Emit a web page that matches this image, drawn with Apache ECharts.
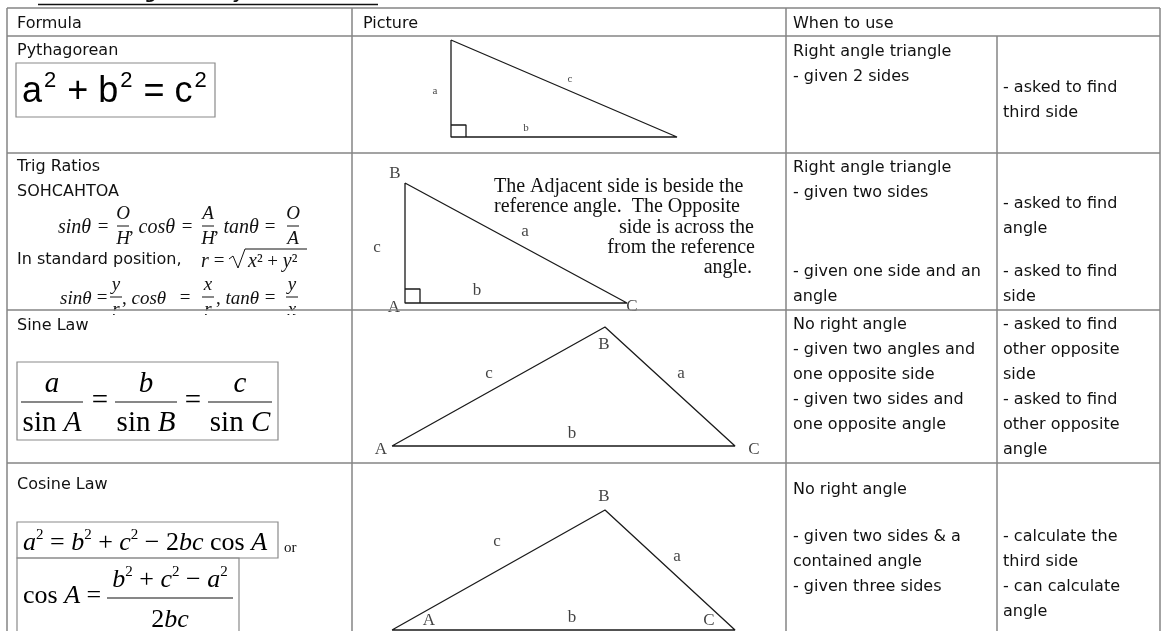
<!DOCTYPE html>
<html>
<head>
<meta charset="utf-8">
<title>Trigonometry Reference Sheet</title>
<script src="https://cdn.jsdelivr.net/npm/echarts@6.0.0/dist/echarts.min.js"></script>
<style>
html, body { margin: 0; padding: 0; background: #fff; }
#container { width: 1165px; height: 631px; }
</style>
</head>
<body>
<div id="container"></div>
<script>
var headers = ['Formula', 'Picture', 'When to use'];
var rowTitles = ['Pythagorean', 'Trig Ratios', 'Sine Law', 'Cosine Law'];
var givenText = [
	[['Right angle triangle', '- given 2 sides']],
	[['Right angle triangle', '- given two sides'], ['- given one side and an', 'angle']],
	[['No right angle', '- given two angles and', 'one opposite side', '- given two sides and', 'one opposite angle']],
	[['No right angle'], ['- given two sides & a', 'contained angle', '- given three sides']]
];
var askedText = [
	[['- asked to find', 'third side']],
	[['- asked to find', 'angle'], ['- asked to find', 'side']],
	[['- asked to find', 'other opposite', 'side', '- asked to find', 'other opposite', 'angle']],
	[['- calculate the', 'third side', '- can calculate', 'angle']]
];
var trigNote = ['The Adjacent side is beside the', 'reference angle.  The Opposite', 'side is across the', 'from the reference', 'angle.'];

// triangle corners (page units)
var pythagTriangle = [[451, 40], [451, 137], [677, 137], [451, 40]];
var pythagSquare = [[451, 125], [466, 125], [466, 137]];
var trigTriangle = [[405, 183], [405, 303], [627, 303], [405, 183]];
var trigSquare = [[405, 289], [420, 289], [420, 303]];
var sineTriangle = [[392, 446], [605, 327], [735, 446], [392, 446]];
var cosineTriangle = [[392, 630], [605, 510], [735, 630], [392, 630]];

// side / vertex names
var pythagLabels = [['a', 435, 91], ['c', 570, 79], ['b', 526, 128]];
var trigLabels = [['B', 395, 174], ['c', 377, 248], ['a', 525, 232], ['b', 477, 291], ['A', 394, 308], ['C', 632, 307]];
var sineLabels = [['A', 381, 450], ['B', 604, 345], ['C', 754, 450], ['c', 489, 374], ['a', 681, 374], ['b', 572, 434]];
var cosineLabels = [['B', 604, 497], ['c', 497, 542], ['a', 677, 557], ['A', 429, 621], ['b', 572, 618], ['C', 709, 621]];

// layout
var colX = [7, 352, 786, 997, 1160];
var rowY = [8, 36, 153, 310, 463];
var titleY = [24, 51, 167, 326, 485];
var givenY = [[52], [168, 272], [325], [490, 537]];
var askedY = [[88], [204, 272], [325], [537]];
var LH = 25;

var BODY = '16px "DejaVu Sans"';
var INK = '#111';
var RULE = '#858585';

function T(x, y, text, font, extra) {
	return {
		type: 'text', x: x, y: y, silent: true, z: 10,
		style: Object.assign({ text: text, font: font, fill: INK, verticalAlign: 'middle' }, extra || {})
	};
}
function L(x1, y1, x2, y2, color, w, z) {
	return {
		type: 'line', silent: true, z: z || 10,
		shape: { x1: x1, y1: y1, x2: x2, y2: y2 },
		style: { stroke: color || INK, lineWidth: w || 1 }
	};
}
function box(x, y, w, h) {
	return {
		type: 'rect', silent: true, z: 9,
		shape: { x: x, y: y, width: w, height: h },
		style: { fill: 'none', stroke: '#8a8a8a', lineWidth: 1.2 }
	};
}
function frac(cx, y, num, den, halfW, rich, up, down, lw) {
	return [
		T(cx, y - up, num, null, { align: 'center', rich: rich }),
		L(cx - halfW, y, cx + halfW, y, INK, lw || 1),
		T(cx, y + down, den, null, { align: 'center', rich: rich })
	];
}

var els = [];

// title (mostly above the page edge)
els.push(T(38, 3, 'MAP 4C1 Trigonometry Reference Sheet', 'italic bold 16px "DejaVu Sans"', { verticalAlign: 'bottom' }));
els.push(L(38, 4.5, 378, 4.5, INK, 1.3));

// table rules
rowY.forEach(function(y) { els.push(L(colX[0], y, colX[4], y, RULE, 1.5, 20)); });
[colX[0], colX[1], colX[2], colX[4]].forEach(function(x) { els.push(L(x, rowY[0], x, 631, RULE, 1.5, 20)); });
els.push(L(colX[3], rowY[1], colX[3], 631, RULE, 1.5, 20));
// hide the clipped denominators below the trig row
els.push({ type: 'rect', silent: true, z: 15, shape: { x: 8, y: 310.5, width: 343, height: 3.5 }, style: { fill: '#fff' } });

// headers
els.push(T(17, titleY[0], headers[0], BODY));
els.push(T(363, titleY[0], headers[1], BODY));
els.push(T(793, titleY[0], headers[2], BODY));

// row titles
rowTitles.forEach(function(t, i) { els.push(T(17, titleY[i + 1], t, BODY)); });
els.push(T(17, 192, 'SOHCAHTOA', BODY));

// when to use
givenText.forEach(function(blocks, r) {
	blocks.forEach(function(lines, b) {
		lines.forEach(function(s, k) { els.push(T(793, givenY[r][b] + k * LH, s, BODY)); });
	});
});
askedText.forEach(function(blocks, r) {
	blocks.forEach(function(lines, b) {
		lines.forEach(function(s, k) { els.push(T(1003, askedY[r][b] + k * LH, s, BODY)); });
	});
});

// Pythagorean formula
els.push(box(16, 63, 199, 54));
var pyRich = {
	m: { font: '36px "Liberation Sans"', fill: '#000', lineHeight: 44 },
	s: { font: '22px "Liberation Sans"', fill: '#000', lineHeight: 26, verticalAlign: 'top', padding: [0, 1, 0, 2] }
};
els.push(T(22, 92, '{m|a}{s|2}{m| + b}{s|2}{m| = c}{s|2}', null, { rich: pyRich }));

// trig ratios (Cambria-like math)
var tr = {
	r: { font: '19px "Liberation Serif"', fill: INK },
	i: { font: 'italic 19px "Liberation Serif"', fill: INK },
	w: { font: 'italic 20px "Liberation Serif"', fill: INK },
	v: { font: 'italic 19px "Liberation Serif"', fill: INK }
};
function ratioLine(y, xs, fr, word) {
	var out = [];
	out.push(T(xs[0], y + 2, '{' + word + '|sinθ}', null, { rich: tr }));
	out.push(T(xs[1], y + 1, '{r|=}', null, { rich: tr, align: 'center' }));
	out = out.concat(frac(xs[2], y, fr[0][0], fr[0][1], 6, tr, 12, 13));
	out.push(T(xs[3], y + 2, '{r|, }{' + word + '|cosθ}', null, { rich: tr }));
	out.push(T(xs[4], y + 1, '{r|=}', null, { rich: tr, align: 'center' }));
	out = out.concat(frac(xs[5], y, fr[1][0], fr[1][1], 6, tr, 12, 13));
	out.push(T(xs[6], y + 2, '{r|, }{' + word + '|tanθ}', null, { rich: tr }));
	out.push(T(xs[7], y + 1, '{r|=}', null, { rich: tr, align: 'center' }));
	out = out.concat(frac(xs[8], y, fr[2][0], fr[2][1], 6, tr, 12, 13));
	return out;
}
els = els.concat(ratioLine(226, [58, 103, 123, 129, 187, 208, 214, 270, 293],
	[['{i|O}', '{i|H}'], ['{i|A}', '{i|H}'], ['{i|O}', '{i|A}']], 'w'));
els = els.concat(ratioLine(297, [60, 102, 116, 122, 185, 208, 216, 270, 292],
	[['{i|y}', '{i|r}'], ['{i|x}', '{i|r}'], ['{i|y}', '{i|x}']], 'v'));

els.push(T(17, 260, 'In standard position,', BODY));
els.push(T(201, 262, '{w|r}', null, { rich: tr }));
els.push(T(219, 261, '{r|=}', null, { rich: tr, align: 'center' }));
els.push({
	type: 'polyline', silent: true, z: 10,
	shape: { points: [[229, 259], [233, 256], [238, 268], [245, 249], [307, 249]] },
	style: { stroke: INK, lineWidth: 1, fill: 'none' }
});
els.push(T(248, 262, '{w|x}{r|² + }{w|y}{r|²}', null, { rich: tr }));

// sine law
els.push(box(17, 362, 261, 78));
var sr = {
	r: { font: '29px "Liberation Serif"', fill: '#000' },
	i: { font: 'italic 29px "Liberation Serif"', fill: '#000' }
};
els = els.concat(frac(52, 402, '{i|a}', '{r|sin }{i|A}', 31, sr, 18, 21, 1.2));
els.push(T(100, 401, '{r|=}', null, { rich: sr, align: 'center' }));
els = els.concat(frac(146, 402, '{i|b}', '{r|sin }{i|B}', 31, sr, 18, 21, 1.2));
els.push(T(193, 401, '{r|=}', null, { rich: sr, align: 'center' }));
els = els.concat(frac(240, 402, '{i|c}', '{r|sin }{i|C}', 32, sr, 18, 21, 1.2));

// cosine law
var cr = {
	r: { font: '26px "Liberation Serif"', fill: '#000', lineHeight: 30 },
	i: { font: 'italic 26px "Liberation Serif"', fill: '#000', lineHeight: 30 },
	s: { font: '15px "Liberation Serif"', fill: '#000', lineHeight: 17, verticalAlign: 'top' }
};
els.push(box(17, 522, 261, 36));
els.push(T(23, 543, '{i|a}{s|2}{r| = }{i|b}{s|2}{r| + }{i|c}{s|2}{r| − 2}{i|bc}{r| cos }{i|A}', null, { rich: cr }));
els.push(T(284, 548, 'or', '15px "Liberation Serif"'));
els.push(box(17, 558, 222, 90));
els.push(T(23, 596, '{r|cos }{i|A}{r| =}', null, { rich: cr }));
els = els.concat(frac(170, 598, '{i|b}{s|2}{r| + }{i|c}{s|2}{r| − }{i|a}{s|2}', '{r|2}{i|bc}', 63, cr, 18, 22, 1.2));

// note beside the trig triangle
var noteFont = '20px "Liberation Serif"';
els.push(T(494, 187, trigNote[0], noteFont));
els.push(T(494, 207, trigNote[1], noteFont));
els.push(T(754, 228, trigNote[2], noteFont, { align: 'right' }));
els.push(T(755, 248, trigNote[3], noteFont, { align: 'right' }));
els.push(T(752, 268, trigNote[4], noteFont, { align: 'right' }));

function edgeSeries(pts) {
	return {
		type: 'line', data: pts, showSymbol: false, silent: true, animation: false, z: 5,
		lineStyle: { color: '#1a1a1a', width: 1.3 }
	};
}
function nameSeries(list, size) {
	return {
		type: 'scatter', symbolSize: 0, silent: true, animation: false, z: 6,
		data: list.map(function(d) { return { name: d[0], value: [d[1], d[2]] }; }),
		label: {
			show: true, position: 'inside', formatter: '{b}',
			fontFamily: 'Liberation Serif', fontSize: size, color: '#111'
		}
	};
}

var dom = document.getElementById('container');
var myChart = echarts.init(dom, null, { renderer: 'canvas' });
var option = {
	backgroundColor: '#fff',
	animation: false,
	grid: { left: 0, right: 0, top: 0, bottom: 0 },
	xAxis: { type: 'value', min: 0, max: 1165, show: false },
	yAxis: { type: 'value', min: 0, max: 631, inverse: true, show: false },
	series: [
		edgeSeries(pythagTriangle), edgeSeries(pythagSquare),
		edgeSeries(trigTriangle), edgeSeries(trigSquare),
		edgeSeries(sineTriangle), edgeSeries(cosineTriangle),
		nameSeries(pythagLabels, 11), nameSeries(trigLabels, 17),
		nameSeries(sineLabels, 17), nameSeries(cosineLabels, 17)
	],
	graphic: { elements: els }
};
myChart.setOption(option, true);
</script>
</body>
</html>
